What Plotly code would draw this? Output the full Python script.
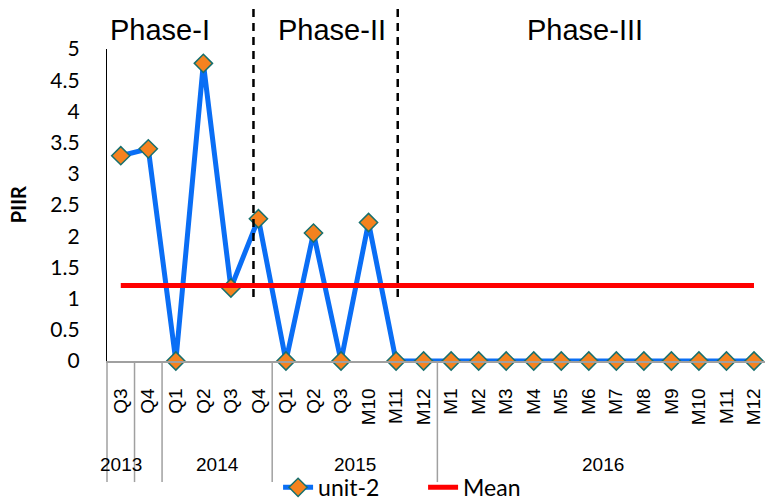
import plotly.graph_objects as go

# ---- data ----
years = ["2013", "2014", "2015", "2016"]
year_counts = [2, 4, 6, 12]
periods = ["Q3", "Q4",
           "Q1", "Q2", "Q3", "Q4",
           "Q1", "Q2", "Q3", "M10", "M11", "M12",
           "M1", "M2", "M3", "M4", "M5", "M6", "M7", "M8", "M9", "M10", "M11", "M12"]
unit2 = [3.29, 3.40,
         0.0, 4.77, 1.17, 2.28,
         0.0, 2.05, 0.0, 2.22, 0.0, 0.0,
         0.0, 0.0, 0.0, 0.0, 0.0, 0.0, 0.0, 0.0, 0.0, 0.0, 0.0, 0.0]
mean_value = 1.21
mean_series = [mean_value] * len(periods)
phase_names = ["Phase-I", "Phase-II", "Phase-III"]
phase_label_x = [1.43, 7.66, 16.86]
phase_boundaries = [4.82, 10.06]

xs = list(range(len(periods)))

fig = go.Figure()
fig.add_trace(go.Scatter(
    x=xs, y=unit2, mode="lines+markers", name="unit-2",
    line=dict(color="#0A6EF5", width=5),
    marker=dict(symbol="diamond", size=14, color="#F5821F",
                line=dict(color="#17706E", width=1.5)),
    cliponaxis=False,
))
fig.add_trace(go.Scatter(
    x=xs, y=mean_series, mode="lines", name="Mean",
    line=dict(color="#FF0000", width=5),
))

shapes = []
# phase dashed lines
for b in phase_boundaries:
    shapes.append(dict(type="line", xref="x", yref="paper", x0=b, x1=b,
                       y0=0.205, y1=1.131,
                       line=dict(color="black", width=2.5, dash="8px,6px")))
# group dividers below axis
div_positions = [0.5]
acc = -0.5
for c in year_counts[:-1]:
    acc += c
    div_positions.append(acc)
shapes.append(dict(type="line", xref="paper", yref="paper", x0=0, x1=0,
                   y0=0, y1=-0.388, line=dict(color="#A0A0A0", width=1.5)))
for d in div_positions:
    shapes.append(dict(type="line", xref="x", yref="paper", x0=d, x1=d,
                       y0=0, y1=-0.388, line=dict(color="#A0A0A0", width=1.5)))

annotations = []
# year labels
start = 0
year_x = []
for y, c in zip(years, year_counts):
    year_x.append(start + (c - 1) / 2 if c > 2 else start)
    start += c
for y, xv in zip(years, year_x):
    annotations.append(dict(x=xv, y=-0.332, xref="x", yref="paper", text=y,
                            showarrow=False, xanchor="center", yanchor="middle",
                            font=dict(family="Liberation Sans, Arial", size=19, color="black")))
# phase labels
for name, xv in zip(phase_names, phase_label_x):
    annotations.append(dict(x=xv, y=1.06, xref="x", yref="paper", text=name,
                            showarrow=False, xanchor="center", yanchor="middle",
                            font=dict(family="Liberation Sans, Arial", size=29, color="black")))
# y title
annotations.append(dict(x=-0.135, y=0.5, xref="paper", yref="paper", text="<b>PIIR</b>",
                        textangle=-90, showarrow=False, xanchor="center", yanchor="middle",
                        font=dict(family="Lato", size=20, color="black")))

fig.update_layout(
    width=765, height=504,
    margin=dict(l=107, r=0, t=49, b=143, autoexpand=False),
    paper_bgcolor="white", plot_bgcolor="white",
    showlegend=True,
    legend=dict(orientation="h", x=0.26, y=-0.405, xanchor="left", yanchor="middle",
                font=dict(family="Lato", size=23, color="black"),
                entrywidth=100, bgcolor="rgba(0,0,0,0)"),
    shapes=shapes, annotations=annotations,
    xaxis=dict(range=[-0.5, 23.4], tickmode="array", tickvals=xs, ticktext=periods,
               tickangle=-90, showgrid=False, zeroline=False, automargin=False,
               showline=True, linecolor="#A0A0A0", linewidth=1.5,
               ticks="", ticklabelstandoff=18, ticklabeloverflow="allow",
               tickfont=dict(family="Liberation Sans, Arial", size=19, color="black")),
    yaxis=dict(range=[0, 5], tickmode="array", tickvals=[i * 0.5 for i in range(11)],
               ticktext=["0", "0.5", "1", "1.5", "2", "2.5", "3", "3.5", "4", "4.5", "5"],
               showgrid=False, zeroline=False, showline=True, linecolor="black", linewidth=1.2,
               ticks="", ticklabelstandoff=22, automargin=False,
               tickfont=dict(family="Lato", size=21, color="black")),
)

fig.write_html("out.html", config={"displayModeBar": False},
               post_script="document.body.style.margin='0';document.body.style.overflow='hidden';")
